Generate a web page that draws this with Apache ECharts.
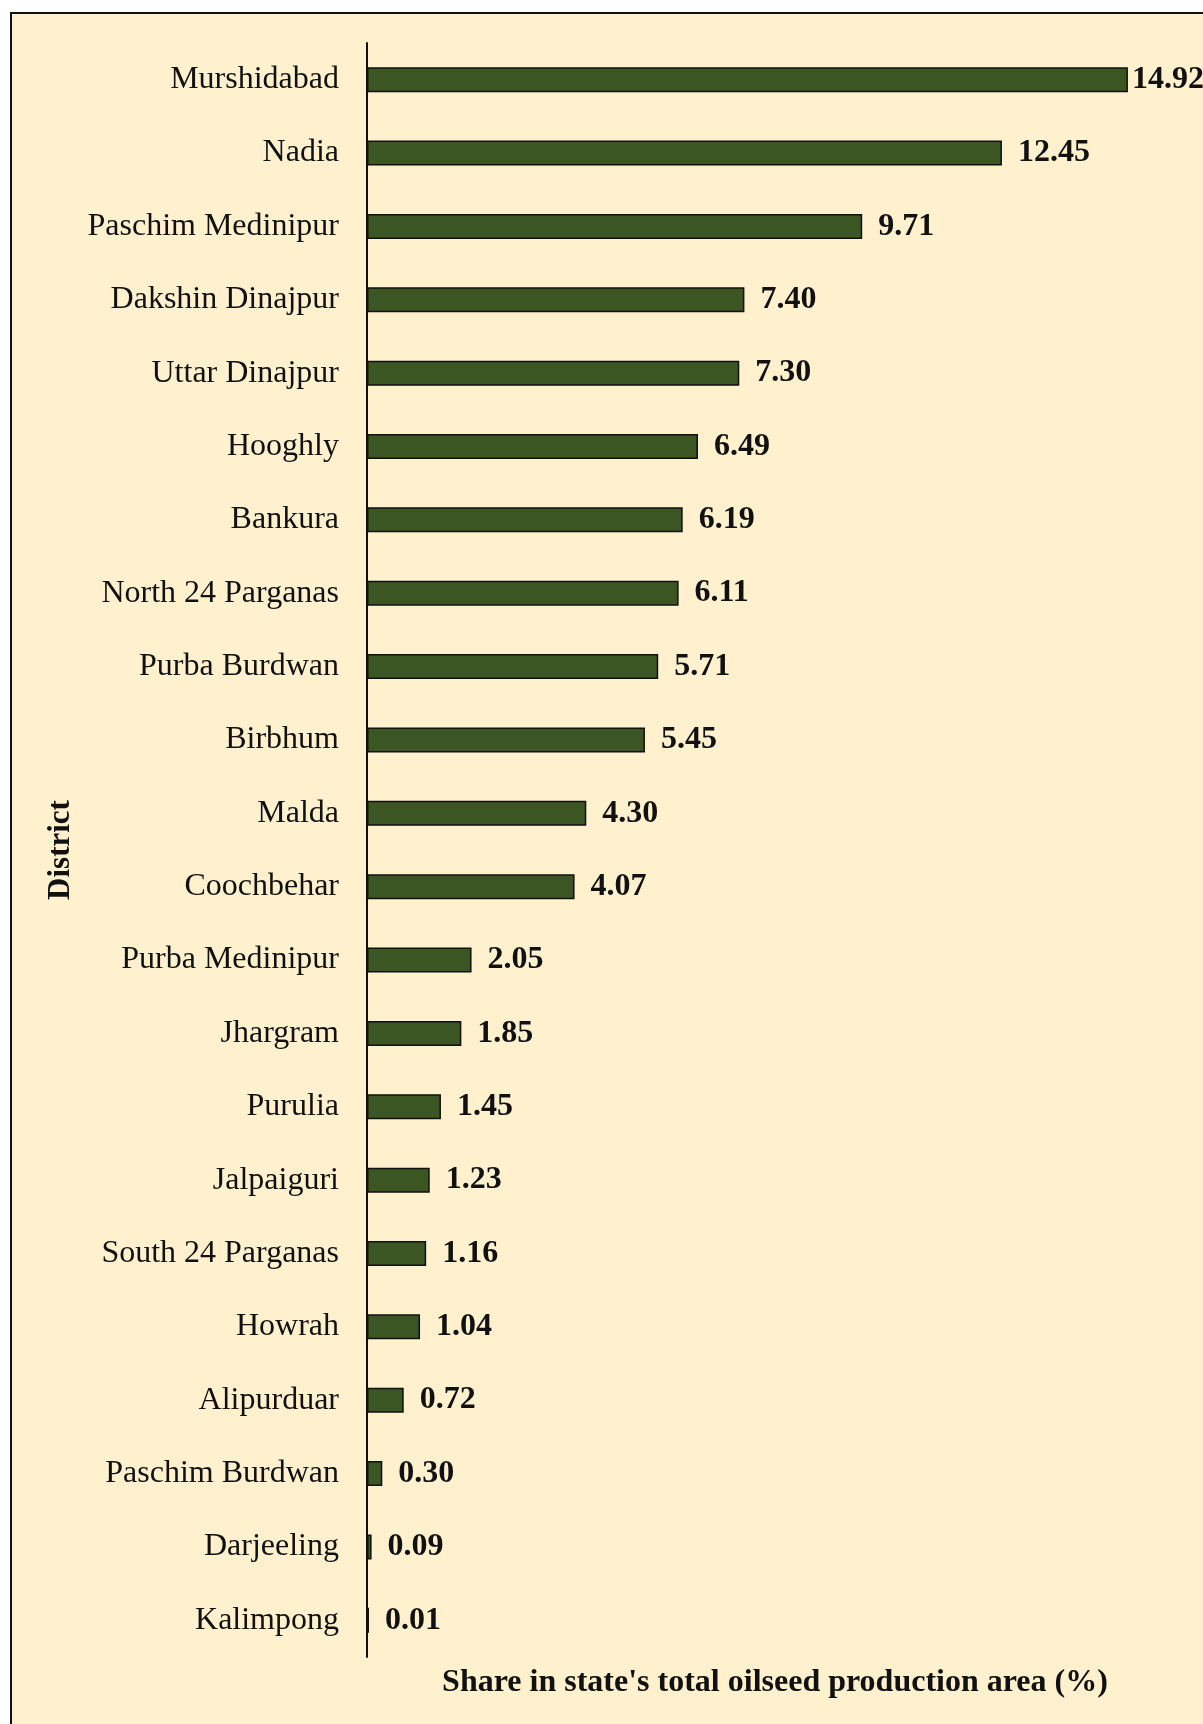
<!DOCTYPE html>
<html>
<head>
<meta charset="utf-8">
<script src="https://cdn.jsdelivr.net/npm/echarts@6/dist/echarts.min.js"></script>
<style>
  html, body { margin: 0; padding: 0; background: #ffffff; overflow: hidden; }
  #frame {
    position: absolute; left: 10px; top: 12px; width: 1400px; height: 1900px;
    background: #FFF0CE; border-left: 2px solid #111; border-top: 2px solid #111;
  }
  #chart { position: absolute; left: 0; top: 0; width: 1203px; height: 1724px; }
</style>
</head>
<body>
<div id="frame"></div>
<div id="chart"></div>
<script>
// Districts of West Bengal, ranked by share of oilseed area
const districts = [
  'Murshidabad', 'Nadia', 'Paschim Medinipur', 'Dakshin Dinajpur', 'Uttar Dinajpur',
  'Hooghly', 'Bankura', 'North 24 Parganas', 'Purba Burdwan', 'Birbhum', 'Malda',
  'Coochbehar', 'Purba Medinipur', 'Jhargram', 'Purulia', 'Jalpaiguri',
  'South 24 Parganas', 'Howrah', 'Alipurduar', 'Paschim Burdwan', 'Darjeeling', 'Kalimpong'
];
const sharePct = [
  14.92, 12.45, 9.71, 7.40, 7.30, 6.49, 6.19, 6.11, 5.71, 5.45, 4.30,
  4.07, 2.05, 1.85, 1.45, 1.23, 1.16, 1.04, 0.72, 0.30, 0.09, 0.01
];
const xAxisTitle = "Share in state's total oilseed production area (%)";
const yAxisTitle = 'District';

const W = 1203;
const serif = '"Liberation Serif", "Times New Roman", serif';

const chart = echarts.init(document.getElementById('chart'), null, { renderer: 'canvas' });
chart.setOption({
  backgroundColor: 'transparent',
  animation: false,
  grid: { left: 367, top: 43, width: 816, height: 1614, containLabel: false },
  xAxis: {
    type: 'value', min: 0, max: 16,
    axisLine: { show: false }, axisTick: { show: false },
    axisLabel: { show: false }, splitLine: { show: false },
    name: xAxisTitle, nameLocation: 'middle', nameGap: 10,
    nameTextStyle: { fontFamily: serif, fontWeight: 'bold', fontSize: 32, color: '#111', verticalAlign: 'top' }
  },
  yAxis: {
    type: 'category', data: districts, inverse: true,
    axisLine: { show: true, lineStyle: { color: '#111', width: 2 } },
    axisTick: { show: false },
    axisLabel: { fontFamily: serif, fontSize: 32, color: '#111', margin: 28 },
    name: yAxisTitle, nameLocation: 'middle', nameRotate: 90, nameGap: 286,
    nameTextStyle: { fontFamily: serif, fontWeight: 'bold', fontSize: 31, color: '#111' }
  },
  series: [{
    type: 'bar',
    data: sharePct,
    barWidth: 25,
    barMinHeight: 2,
    z: 3,
    itemStyle: { color: '#3B5523', borderColor: '#111', borderWidth: 1.5 },
    label: {
      show: true, position: 'right', distance: 16,
      formatter: (p) => p.value.toFixed(2),
      fontFamily: serif, fontWeight: 'bold', fontSize: 32, color: '#111'
    },
    // keep value labels inside the canvas on the right
    labelLayout: (p) => {
      const r = p.labelRect;
      const over = r.x + r.width - (W + 1);
      return over > 0 ? { dx: -over } : {};
    }
  }]
});
</script>
</body>
</html>
